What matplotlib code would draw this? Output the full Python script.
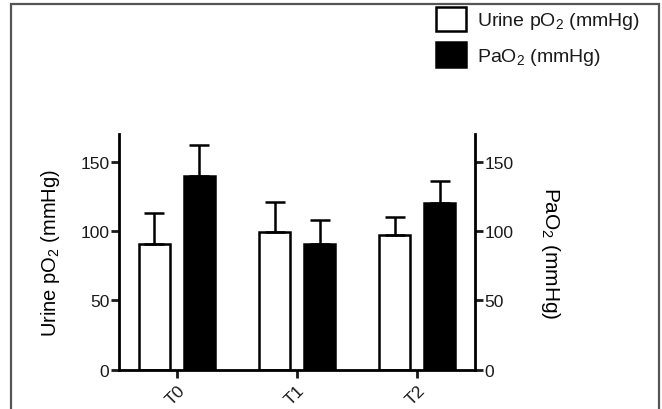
import matplotlib
matplotlib.use('Agg')
import matplotlib.pyplot as plt
from matplotlib.patches import Patch, Rectangle
import numpy as np

plt.rcParams.update({
    'font.family': ['Liberation Sans', 'DejaVu Sans'], 'mathtext.default': 'regular',
    'axes.linewidth': 2.0, 'xtick.major.width': 2.0, 'ytick.major.width': 2.0,
    'xtick.major.size': 6, 'ytick.major.size': 6, 'text.color': '#1a1a1a',
    'xtick.color': '#1a1a1a', 'ytick.color': '#1a1a1a',
})

# data
times = ['T0', 'T1', 'T2']
urine_po2 = [91, 99, 97]
urine_err = [22, 22, 13]
pao2 = [140, 91, 120]
pao2_err = [22, 17, 16]

fig = plt.figure(figsize=(6.62, 4.10), dpi=100)
ax = fig.add_axes([0.1798, 0.0959, 0.7175 - 0.1798, 0.6707 - 0.0959])
x = np.arange(len(times)); w = 0.26; off = 0.1875

ax.bar(x - off, urine_po2, w, color='white', edgecolor='black', linewidth=1.8,
       yerr=[[0]*3, urine_err], error_kw=dict(ecolor='black', elinewidth=1.8, capsize=7, capthick=1.8))
ax.bar(x + off, pao2, w, color='black', edgecolor='black', linewidth=1.8,
       yerr=[[0]*3, pao2_err], error_kw=dict(ecolor='black', elinewidth=1.8, capsize=7, capthick=1.8))

ax.set_xlim(-0.483, 2.483); ax.set_ylim(0, 170)
ax.set_yticks([0, 50, 100, 150])
ax.set_xticks(x); ax.set_xticklabels(times, rotation=45, ha='right', rotation_mode='anchor', fontsize=12.5)
ax.tick_params(axis='y', labelsize=12.5, pad=1)
ax.tick_params(axis='x', pad=3)
ax.spines['top'].set_visible(False); ax.spines['right'].set_visible(False)
ax.set_ylabel('Urine pO$_2$ (mmHg)', fontsize=14.5, labelpad=13)

ax2 = ax.twinx()
ax2.set_ylim(0, 170); ax2.set_yticks([0, 50, 100, 150])
ax2.tick_params(axis='y', labelsize=12.5, pad=1)
for s in ['top', 'left', 'bottom']:
    ax2.spines[s].set_visible(False)
ax2.set_ylabel('PaO$_2$ (mmHg)', fontsize=15, rotation=270, labelpad=35)

fig.legend(handles=[Patch(facecolor='white', edgecolor='black', linewidth=1.8, label='Urine pO$_2$ (mmHg)'),
                    Patch(facecolor='black', edgecolor='black', linewidth=1.8, label='PaO$_2$ (mmHg)')],
           loc='upper left', bbox_to_anchor=(436/662, 1 - 7.5/410), frameon=False, fontsize=14,
           handlelength=1.55, handleheight=1.6, handletextpad=0.55, labelspacing=0.55, borderpad=0, borderaxespad=0)

# grey frame around the figure (bottom edge cut off in the reference)
fig.patches.append(Rectangle((11/662, -0.2), (659 - 11)/662, 1.2 - 4.5/410, transform=fig.transFigure,
                             fill=False, edgecolor='#555555', linewidth=1.6, clip_on=False))

fig.savefig('out.png', dpi=100)
